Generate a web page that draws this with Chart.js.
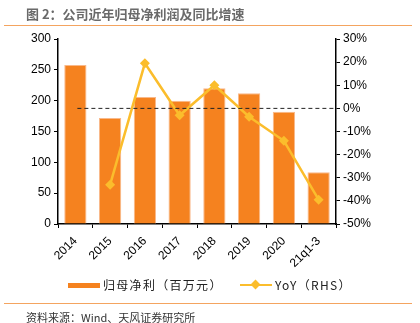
<!DOCTYPE html>
<html>
<head>
<meta charset="utf-8">
<script src="https://cdn.jsdelivr.net/npm/chart.js@4"></script>
<style>
  body { margin: 0; background: #fff; font-family: "Liberation Sans", Arial, "Noto Sans CJK SC", sans-serif; }
  #wrap { position: relative; width: 420px; height: 323px; overflow: hidden; }
  #chartCanvas { position: absolute; left: 0; top: 0; }
  .title { position: absolute; left: 26px; top: 4px; font-size: 13px; font-weight: bold; color: #6a6a6a; font-family: "Noto Sans CJK SC", sans-serif; }
  .rule { position: absolute; left: 4px; width: 408px; height: 1px; background: #F4A460; }
  .source { position: absolute; left: 26px; top: 309px; font-size: 11px; color: #333; font-family: "Noto Sans CJK SC", sans-serif; }
  .legend { position: absolute; top: 276px; font-size: 12px; letter-spacing: 1.3px; color: #222; font-family: "Noto Sans CJK SC", sans-serif; }
  .sw-bar { position: absolute; left: 68px; top: 283px; width: 32px; height: 5px; background: #F5821F; }
  .sw-line { position: absolute; left: 240px; top: 284px; width: 32px; height: 2px; background: #FBBD2C; }
  .sw-dia { position: absolute; left: 252px; top: 281px; width: 7px; height: 7px; background: #FBBD2C; transform: rotate(45deg); }
</style>
</head>
<body>
<div id="wrap">
  <canvas id="chartCanvas" width="420" height="323"></canvas>
  <div class="title">图 2：公司近年归母净利润及同比增速</div>
  <div class="rule" style="top:25px"></div>
  <div class="sw-bar"></div>
  <div class="legend" style="left:103px">归母净利（百万元）</div>
  <div class="sw-line"></div>
  <div class="sw-dia"></div>
  <div class="legend" style="left:275px">YoY（RHS）</div>
  <div class="rule" style="top:303px"></div>
  <div class="source">资料来源：Wind、天风证券研究所</div>
</div>
<script>
const categories = ["2014", "2015", "2016", "2017", "2018", "2019", "2020", "21q1-3"];
const netProfit = [258, 172, 206, 200, 220, 212, 182, 84];
const yoy = [null, -33, 19.5, -3, 10, -3.6, -14, -39.5];

// dashed 0% reference line on the right axis
const zeroLine = {
    id: "zeroLine",
    afterDatasetsDraw(chart) {
        const ctx = chart.ctx;
        const x0 = chart.scales.x.getPixelForValue(0) + 2;
        const x1 = chart.chartArea.right;
        const y = chart.scales.y1.getPixelForValue(0);
        ctx.save();
        ctx.strokeStyle = "#222";
        ctx.lineWidth = 1;
        ctx.setLineDash([4, 3]);
        ctx.beginPath();
        ctx.moveTo(x0, y);
        ctx.lineTo(x1, y);
        ctx.stroke();
        ctx.restore();
    }
};

const chart = new Chart(document.getElementById("chartCanvas"), {
    type: "bar",
    data: {
        labels: categories,
        datasets: [
            {
                type: "line",
                label: "YoY（RHS）",
                data: yoy,
                yAxisID: "y1",
                borderColor: "#FBBD2C",
                backgroundColor: "#FBBD2C",
                borderWidth: 2.5,
                pointStyle: "rectRot",
                pointRadius: 5,
                pointBorderWidth: 0,
                tension: 0,
                order: 0
            },
            {
                label: "归母净利（百万元）",
                data: netProfit,
                yAxisID: "y",
                backgroundColor: "#F5821F",
                borderColor: "#F9B98A",
                borderWidth: 1,
                categoryPercentage: 0.64,
                barPercentage: 1,
                order: 1
            }
        ]
    },
    options: {
        responsive: false,
        animation: false,
        layout: { padding: { top: 39, bottom: 0, left: 0, right: 0 } },
        plugins: { legend: { display: false }, tooltip: { enabled: false } },
        scales: {
            x: {
                offset: true,
                grid: { display: true, drawOnChartArea: false, offset: true, color: "#000", tickLength: 4 },
                border: { display: true, color: "#000", width: 1.5 },
                ticks: { color: "#000", font: { size: 12, family: "Liberation Sans" }, minRotation: 45, maxRotation: 45, padding: 6 },
                afterFit(scale) { scale.height = 99; }
            },
            y: {
                position: "left",
                min: 0,
                max: 300,
                grid: { display: true, drawOnChartArea: false, color: "#000", tickLength: 4 },
                border: { display: true, color: "#000", width: 1.5 },
                ticks: { stepSize: 50, color: "#000", font: { size: 12, family: "Liberation Sans" }, padding: 3 },
                afterFit(scale) { scale.width = 58; }
            },
            y1: {
                position: "right",
                min: -50,
                max: 30,
                grid: { display: true, drawOnChartArea: false, color: "#000", tickLength: 4 },
                border: { display: true, color: "#000", width: 1.5 },
                ticks: { stepSize: 10, color: "#000", font: { size: 12, family: "Liberation Sans" }, padding: 3, callback: v => v + "%" },
                afterFit(scale) { scale.width = 84; }
            }
        }
    },
    plugins: [zeroLine]
});
</script>
</body>
</html>
